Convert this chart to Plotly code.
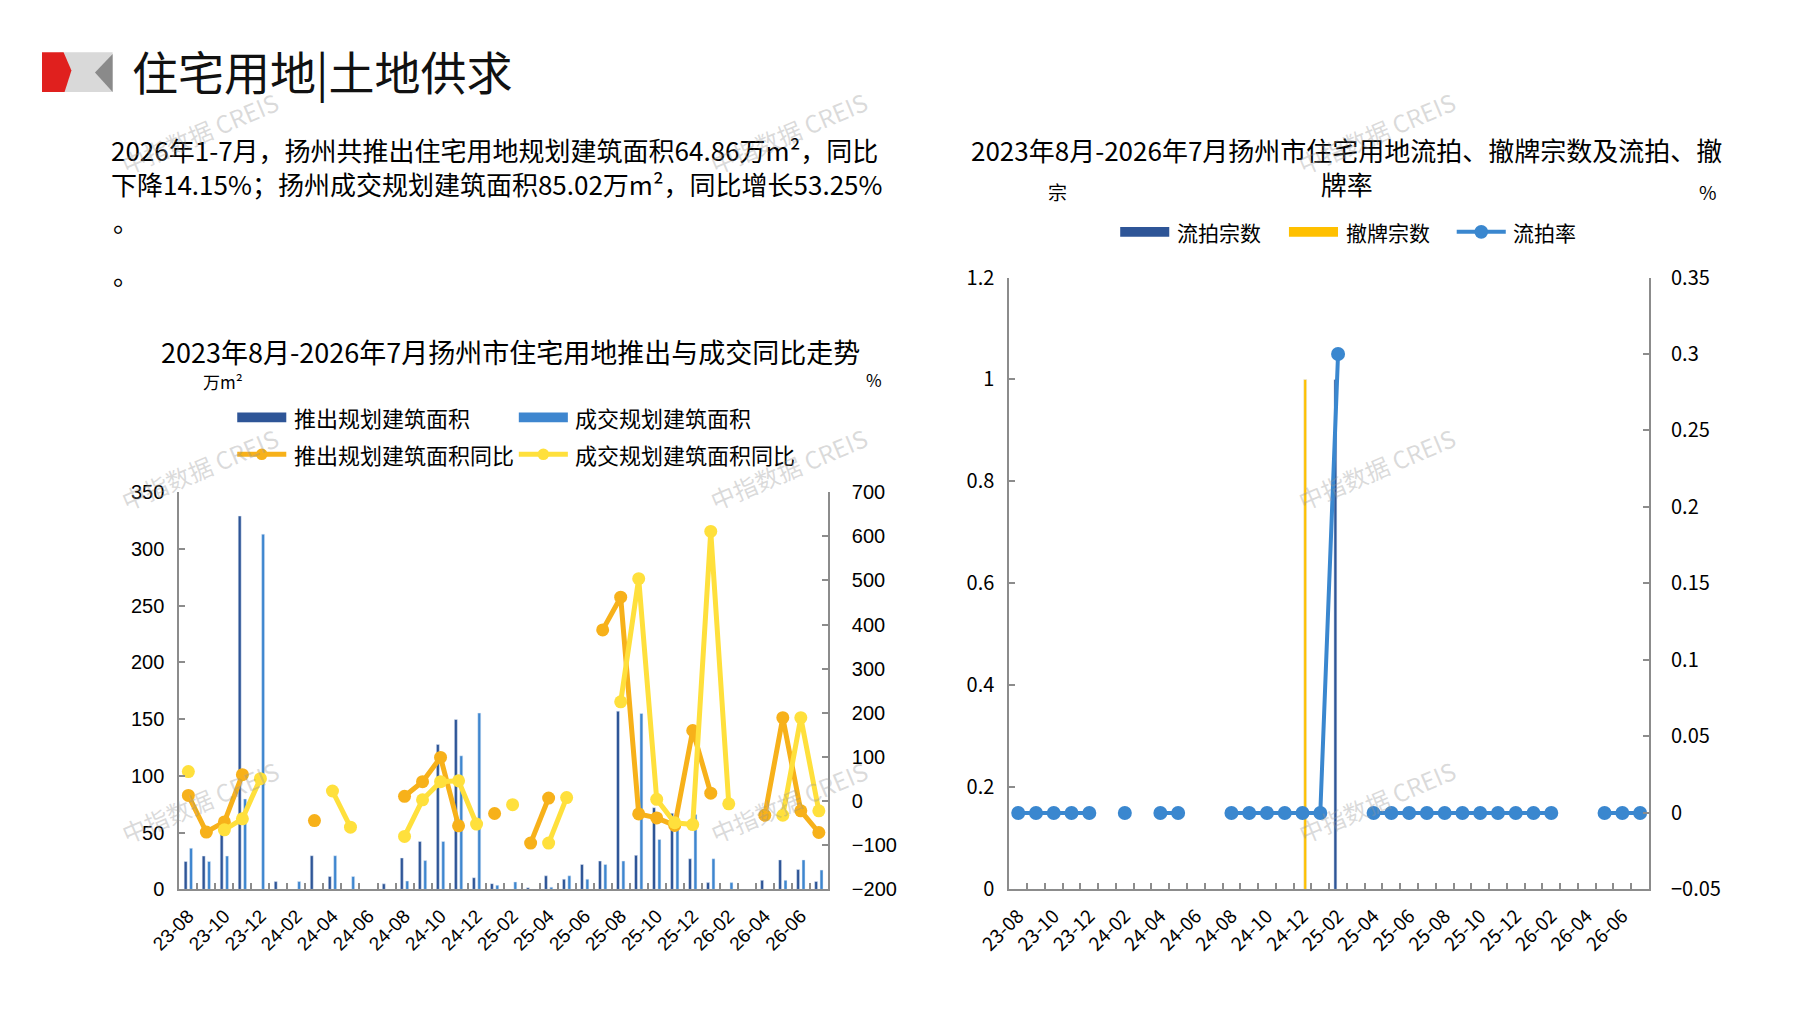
import plotly.graph_objects as go

#--------------------------------------------------
#   data
#--------------------------------------------------
months = ['23-08', '23-09', '23-10', '23-11', '23-12',
          '24-01', '24-02', '24-03', '24-04', '24-05', '24-06',
          '24-07', '24-08', '24-09', '24-10', '24-11', '24-12',
          '25-01', '25-02', '25-03', '25-04', '25-05', '25-06',
          '25-07', '25-08', '25-09', '25-10', '25-11', '25-12',
          '26-01', '26-02', '26-03', '26-04', '26-05', '26-06', '26-07']

# 万m2
push_area = [24.6, 29.4, 49, 329, 0,
             6.9, 0, 29.7, 11.4, 0, 0, 4.9, 27.7, 42.3, 127.7, 149.7, 10.3,
             5.1, 0, 1.5, 12, 9, 22, 25, 157, 30, 72, 67, 27,
             6, 0, 0, 8, 26, 17.5, 7]
deal_area = [36.3, 24.6, 29.4, 79.7, 313,
             0, 6.9, 0, 29.7, 11.4, 0, 0, 7.4, 25.4, 42.3, 117.7, 155.4,
             3.7, 6.6, 0, 2, 12, 9, 22, 25, 155, 44, 68, 66,
             27, 6, 0, 0, 8, 26, 17]
# %
push_yoy = [13, -70, -47, 60, None,
            None, None, -44, None, None, None, None, 11, 44, 99, -56, None,
            -28, None, -95, 7, None, None, 388, 462, -29, -38, -55, 160,
            18, None, None, -32, 189, -22, -71]
deal_yoy = [67, None, -65, -40, 51,
            None, None, None, 23, -59, None, None, -80, 3, 44, 46, -52,
            None, -8, None, -95, 8, None, None, 225, 504, 4, -49, -53,
            611, -6, None, None, -32, 189, -22]

# 宗 / 率
unsold_cnt = [0, 0, 0, 0, 0,
              0, 0, 0, 0, 0, 0, 0, 0, 0, 0, 0, 0,
              0, 1, 0, 0, 0, 0, 0, 0, 0, 0, 0, 0,
              0, 0, 0, 0, 0, 0, 0]
withdraw_cnt = [0, 0, 0, 0, 0,
                0, 0, 0, 0, 0, 0, 0, 0, 0, 0, 0, 1,
                0, 0, 0, 0, 0, 0, 0, 0, 0, 0, 0, 0,
                0, 0, 0, 0, 0, 0, 0]
unsold_rate = [0, 0, 0, 0, 0,
               None, 0, None, 0, 0, None, None, 0, 0, 0, 0, 0,
               0, 0.3, None, 0, 0, 0, 0, 0, 0, 0, 0, 0,
               0, 0, None, None, 0, 0, 0]

tick_text = [m if i % 2 == 0 else '' for i, m in enumerate(months)]

#--------------------------------------------------
#   page geometry (pixels -> paper)
#--------------------------------------------------
W, H = 1797, 1010
def px(x):
    return x / W
def py(y):
    return 1 - y / H

CJK = 'Noto Sans CJK SC'
ARIAL = 'Liberation Sans'
DARK = '#2E5597'
LIGHT = '#3E86CF'
ORANGE = '#F7B11A'
YELLOW = '#FFE03C'
GOLD = '#FFC000'
RATE = '#3A87CF'
AXIS = '#8C8C8C'

fig = go.Figure()

# left chart
fig.add_trace(go.Bar(x=months, y=push_area, name='推出规划建筑面积', marker_color=DARK,
                     xaxis='x', yaxis='y'))
fig.add_trace(go.Bar(x=months, y=deal_area, name='成交规划建筑面积', marker_color=LIGHT,
                     xaxis='x', yaxis='y'))
fig.add_trace(go.Scatter(x=months, y=push_yoy, name='推出规划建筑面积同比', mode='lines+markers',
                         line=dict(color=ORANGE, width=5), marker=dict(size=13, color=ORANGE),
                         xaxis='x', yaxis='y2'))
fig.add_trace(go.Scatter(x=months, y=deal_yoy, name='成交规划建筑面积同比', mode='lines+markers',
                         line=dict(color=YELLOW, width=5), marker=dict(size=13, color=YELLOW),
                         xaxis='x', yaxis='y2'))

# right chart
fig.add_trace(go.Bar(x=months, y=unsold_cnt, name='流拍宗数', marker_color=DARK,
                     xaxis='x2', yaxis='y3'))
fig.add_trace(go.Bar(x=months, y=withdraw_cnt, name='撤牌宗数', marker_color=GOLD,
                     xaxis='x2', yaxis='y3'))
fig.add_trace(go.Scatter(x=months, y=unsold_rate, name='流拍率', mode='lines+markers',
                         line=dict(color=RATE, width=4), marker=dict(size=14, color=RATE),
                         xaxis='x2', yaxis='y4'))

common_x = dict(type='category', range=[-0.5, len(months) - 0.5], autorange=False,
                showline=True, linecolor=AXIS, linewidth=2,
                ticks='inside', ticklen=6, tickwidth=1.5, tickcolor=AXIS,
                tickson='boundaries', tickvals=months, ticktext=tick_text,
                tickangle=-45, showgrid=False, zeroline=False, fixedrange=True)
common_y = dict(showline=True, linecolor=AXIS, linewidth=2, ticks='inside', ticklen=6,
                tickwidth=1.5, tickcolor=AXIS, showgrid=False, zeroline=False)

fig.update_layout(
    width=W, height=H, margin=dict(l=0, r=0, t=0, b=0),
    paper_bgcolor='white', plot_bgcolor='white', showlegend=False,
    barmode='group', bargap=0.4, bargroupgap=0.45,
    font=dict(family=CJK, color='#000000'),
    xaxis=dict(common_x, domain=[px(140), px(801)], anchor='y',
               tickfont=dict(family=ARIAL, size=19, color='#000'), ticklabelstandoff=6),
    yaxis=dict(common_y, domain=[py(891), py(482)], range=[0, 350], dtick=50, anchor='x',
               tickfont=dict(family=ARIAL, size=20, color='#000'), ticklabelstandoff=9),
    yaxis2=dict(common_y, overlaying='y', side='right', anchor='x', range=[-200, 700], dtick=100,
                tickfont=dict(family=ARIAL, size=20, color='#000'), ticklabelstandoff=18),
    xaxis2=dict(common_x, domain=[px(986), px(1638)], anchor='y3',
                tickfont=dict(family=CJK, size=19, color='#000'), ticklabelstandoff=6),
    yaxis3=dict(common_y, domain=[py(891), py(261)], range=[0, 1.2], dtick=0.2, anchor='x2',
                tickfont=dict(family=CJK, size=20, color='#000'), ticklabelstandoff=9),
    yaxis4=dict(common_y, overlaying='y3', side='right', anchor='x2', range=[-0.05, 0.35], dtick=0.05,
                tickfont=dict(family=CJK, size=20, color='#000'), ticklabelstandoff=16),
)

#--------------------------------------------------
#   texts
#--------------------------------------------------
def note(text, x, y, size, anchor='left', color='#000000', family=CJK, angle=0, align='left'):
    fig.add_annotation(text=text, x=px(x), y=py(y), xref='paper', yref='paper',
                       xanchor=anchor, yanchor='middle', showarrow=False, textangle=angle,
                       align=align, font=dict(family=family, size=size, color=color))

note('住宅用地|土地供求', 90, 47, 46, color='#111111')
note('2026年1-7月，扬州共推出住宅用地规划建筑面积64.86万m²，同比<br>'
     '下降14.15%；扬州成交规划建筑面积85.02万m²，同比增长53.25%', 68, 147, 26)
note('。', 70, 202, 26)
note('。', 70, 257, 26)

note('2023年8月-2026年7月扬州市住宅用地推出与成交同比走势', 478, 337, 27, anchor='center')
note('万m²', 184, 368, 17, anchor='center')
note('%', 848, 366, 17, anchor='center')

note('2023年8月-2026年7月扬州市住宅用地流拍、撤牌宗数及流拍、撤<br>牌率',
     1330, 147, 26, anchor='center', align='center')
note('宗', 1035, 172, 19, anchor='center')
note('%', 1698, 172, 19, anchor='center')

# legend, left chart
def swatch_bar(x0, y, color):
    fig.add_shape(type='rect', xref='paper', yref='paper', x0=px(x0), x1=px(x0 + 50),
                  y0=py(y + 5), y1=py(y - 5), fillcolor=color, line_width=0)
def swatch_line(x0, y, color, width=5, r=6):
    fig.add_shape(type='line', xref='paper', yref='paper', x0=px(x0), x1=px(x0 + 50),
                  y0=py(y), y1=py(y), line=dict(color=color, width=width))
    fig.add_shape(type='circle', xref='paper', yref='paper', x0=px(x0 + 25 - r), x1=px(x0 + 25 + r),
                  y0=py(y + r), y1=py(y - r), fillcolor=color, line_width=0)

swatch_bar(199, 405, DARK)
note('推出规划建筑面积', 255, 405, 22)
swatch_bar(486, 405, LIGHT)
note('成交规划建筑面积', 541, 405, 22)
swatch_line(199, 443, ORANGE)
note('推出规划建筑面积同比', 255, 443, 22)
swatch_line(486, 443, YELLOW)
note('成交规划建筑面积同比', 541, 443, 22)

# legend, right chart
swatch_bar(1099, 214, DARK)
note('流拍宗数', 1155, 214, 21)
swatch_bar(1271, 214, GOLD)
note('撤牌宗数', 1327, 214, 21)
swatch_line(1442, 214, RATE, width=4, r=7)
note('流拍率', 1497, 214, 21)

# watermarks
for wx in [161, 761, 1360]:
    for wy in [112, 458, 800]:
        note('中指数据 CREIS', wx, wy, 24, anchor='center',
             color='rgba(150,150,150,0.35)', family=CJK, angle=-23)

# corner logo
fig.add_shape(type='rect', xref='paper', yref='paper', x0=px(18), x1=px(72), y0=py(70), y1=py(29),
              fillcolor='#D9D9D9', line_width=0)
fig.add_shape(type='path', xref='paper', yref='paper', fillcolor='#E0201E', line_width=0,
              path=f'M {px(0)},{py(29)} L {px(22)},{py(29)} L {px(30)},{py(48)} L {px(23)},{py(70)} '
                   f'L {px(0)},{py(70)} Z')
fig.add_shape(type='path', xref='paper', yref='paper', fillcolor='#8A8A8A', line_width=0,
              path=f'M {px(72)},{py(31)} L {px(54)},{py(50)} L {px(72)},{py(70)} Z')

fig.write_html('out.html')
